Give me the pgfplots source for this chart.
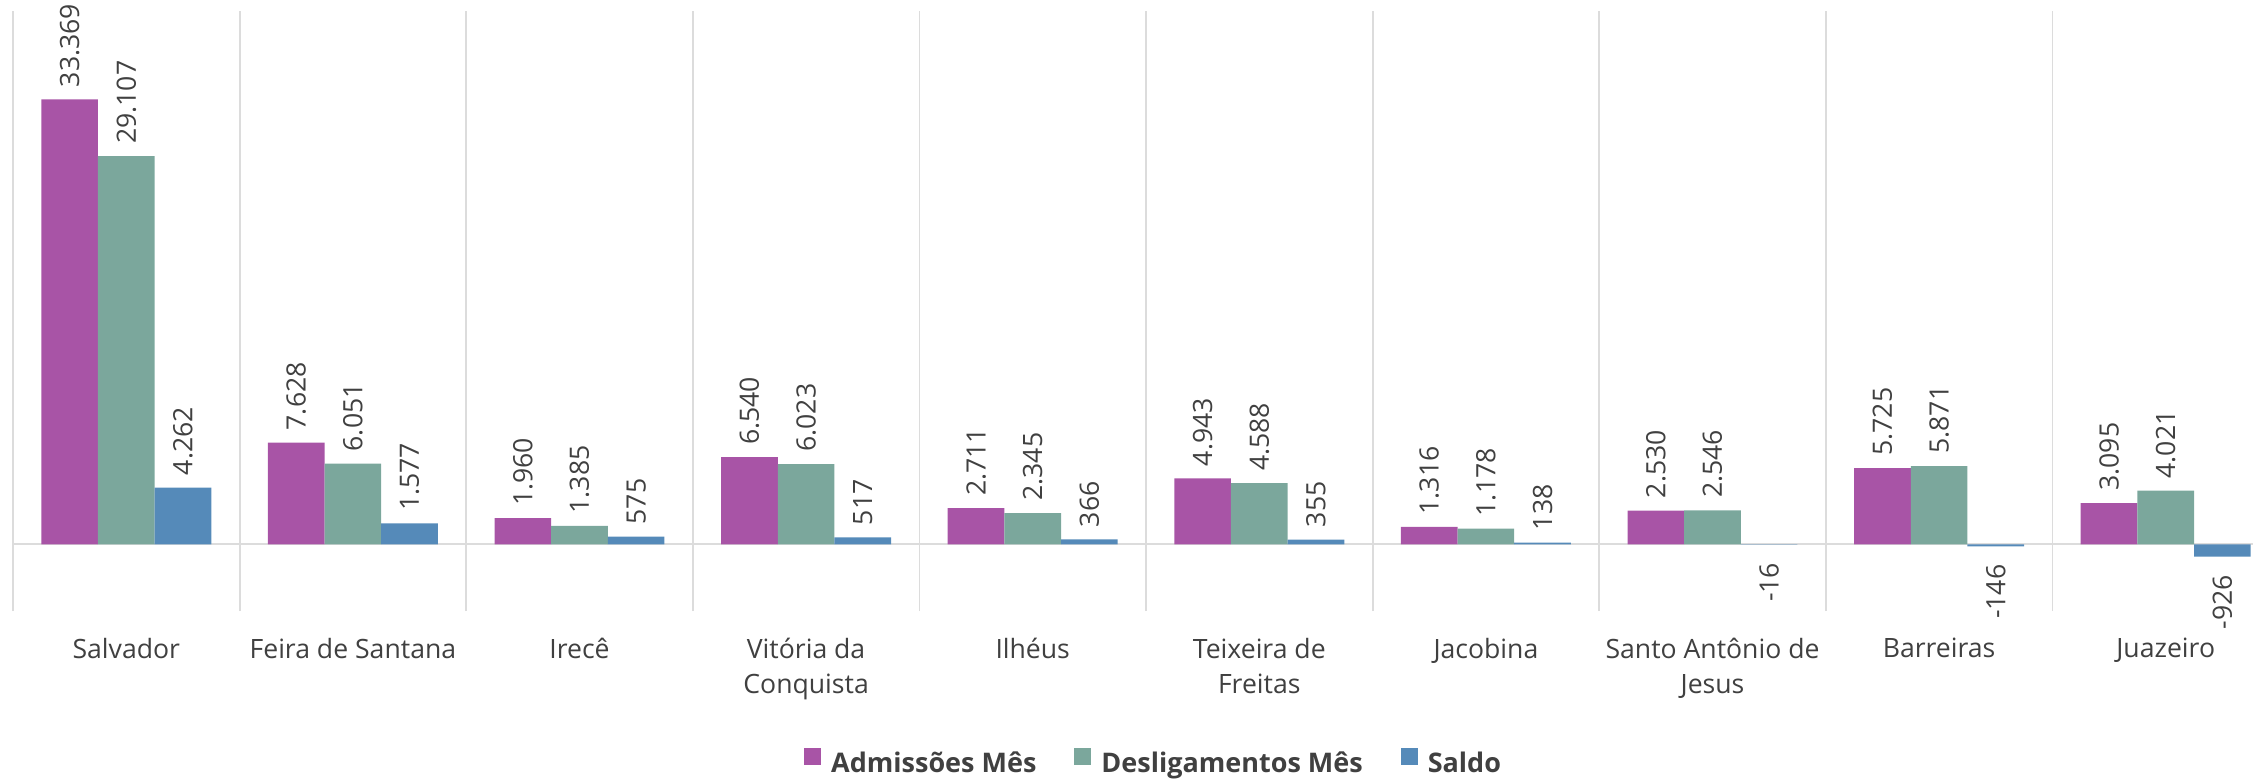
\documentclass[border=0pt]{standalone}
\usepackage{fontspec}
\setmainfont{Open Sans}
\usepackage{pgfplots}
\usepackage{pgfplotstable}
\pgfplotsset{compat=1.18}
\definecolor{AdmColor}{HTML}{A854A6}
\definecolor{DesColor}{HTML}{7BA79C}
\definecolor{SalColor}{HTML}{558AB9}
\definecolor{TextColor}{HTML}{404040}
\definecolor{GridColor}{HTML}{DCDCDC}

% admissões, desligamentos e saldo por município
\pgfplotstableread{
x  adm    des    sal
0  33369  29107  4262
1  7628   6051   1577
2  1960   1385   575
3  6540   6023   517
4  2711   2345   366
5  4943   4588   355
6  1316   1178   138
7  2530   2546   -16
8  5725   5871   -146
9  3095   4021   -926
}\datatable

\begin{document}
\begin{tikzpicture}
    \begin{axis}[
        scale only axis,
        width=1133pt,
        height=300pt,
        ybar=0pt,
        bar width=0.25,
        xmin=-0.5,
        xmax=9.5,
        ymin=-5000,
        ymax=40000,
        clip=false,
        axis line style={draw=none},
        major tick length=0pt,
        minor tick length=0pt,
        xtick={0,...,9},
        xticklabels={
            Salvador,
            Feira de Santana,
            Irecê,
            {Vitória da\\Conquista},
            Ilhéus,
            {Teixeira de\\Freitas},
            Jacobina,
            {Santo Antônio de\\Jesus},
            Barreiras,
            Juazeiro
        },
        xticklabel style={
            font=\fontsize{13.3}{17.5}\selectfont,
            text=TextColor,
            align=center,
            yshift=-10pt
        },
        minor xtick={-0.5,0.5,...,9.5},
        xminorgrids=true,
        minor grid style={
            GridColor,
            line width=0.9pt
        },
        ytick=\empty,
        extra y ticks={0},
        extra y tick labels={},
        extra y tick style={grid=major},
        major grid style={
            GridColor,
            line width=0.9pt
        },
        every node near coord/.append style={
            rotate=90,
            font=\fontsize{13.3}{16}\selectfont,
            text=TextColor,
            inner xsep=6pt,
            inner ysep=0pt
        },
        nodes near coords={
            \pgfmathprintnumber[
                fixed,
                precision=0,
                1000 sep={.},
                assume math mode=true
            ]{\pgfplotspointmeta}
        },
        legend columns=3,
        legend image code/.code={
            \fill[#1, draw=none] (0pt,-0.5pt) rectangle (8.5pt,8pt);
        },
        legend style={
            draw=none,
            fill=none,
            text=TextColor,
            font=\bfseries\fontsize{13.5}{16}\selectfont,
            at={(0.5038,-0.255)},
            anchor=center,
            /tikz/every odd column/.append style={column sep=3pt},
            /tikz/every even column/.append style={column sep=17pt}
        }
    ]

    \addplot[
        fill=AdmColor,
        draw=none,
        point meta=y,
        every node near coord/.append style={anchor=west}
    ] table[x=x, y=adm] {\datatable};
    \addlegendentry{Admissões Mês}

    \addplot[
        fill=DesColor,
        draw=none,
        point meta=y,
        every node near coord/.append style={anchor=west}
    ] table[x=x, y=des] {\datatable};
    \addlegendentry{Desligamentos Mês}

    % saldo: rótulo acima ou abaixo conforme o sinal
    \addplot[
        fill=SalColor,
        draw=none,
        point meta=y,
        visualization depends on={rawy \as \rawy},
        every node near coord/.append style={
            /utils/exec={%
                \ifdim\rawy pt<0pt
                    \def\anc{east}\def\labsep{9pt}%
                \else
                    \def\anc{west}\def\labsep{6pt}%
                \fi},
            anchor=\anc,
            inner xsep=\labsep
        }
    ] table[x=x, y=sal] {\datatable};
    \addlegendentry{Saldo}

    \coordinate (bbSW) at (rel axis cs:-0.00574,-0.28167);
    \coordinate (bbNE) at (rel axis cs:0.98853,1.01833);
    \end{axis}
    \pgfresetboundingbox
    \useasboundingbox (bbSW) rectangle (bbNE);
\end{tikzpicture}
\end{document}
